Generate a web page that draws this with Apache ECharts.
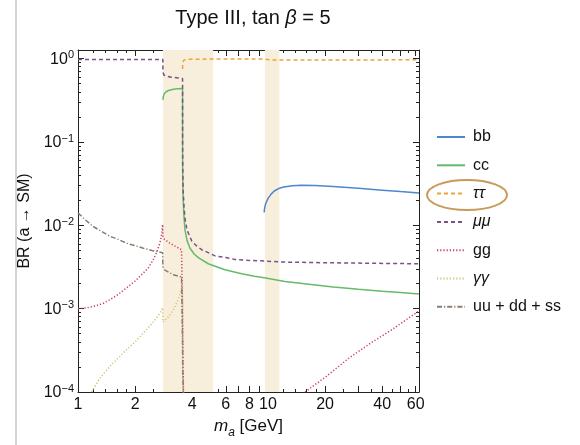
<!DOCTYPE html>
<html><head><meta charset="utf-8">
<script src="https://cdn.jsdelivr.net/npm/echarts@6/dist/echarts.min.js"></script>
<style>html,body{margin:0;padding:0;background:#fff}#c{width:580px;height:445px}</style>
</head><body><div id="c"></div>
<script>
// ---- data (m_a in GeV, branching ratios) ----
const bbX = [9.56, 9.6, 9.7, 9.83, 10.04, 10.4, 10.8, 11.4, 12.1, 13.5, 15, 17.7, 22, 30, 40, 50, 62.5];
const bbY = [0.0143, 0.0158, 0.0176, 0.0192, 0.0212, 0.0237, 0.0258, 0.0276, 0.0288, 0.0298, 0.0302, 0.0301, 0.0292, 0.0278, 0.0264, 0.0254, 0.0245];

const ccX = [2.8, 2.81, 2.84, 2.9, 3.0, 3.18, 3.35, 3.554, 3.5545, 3.556, 3.56, 3.58, 3.62, 3.66, 3.75, 3.89, 4.1, 4.3, 4.85, 5.94, 7.28, 8.5, 9.56, 9.7, 12.3, 16, 22.1, 30, 40, 50, 62.5];
const ccY = [0.32, 0.345, 0.375, 0.398, 0.415, 0.43, 0.435, 0.437, 0.15, 0.065, 0.038, 0.02, 0.0122, 0.0088, 0.0066, 0.0053, 0.0045, 0.0041, 0.00346, 0.00293, 0.00262, 0.00245, 0.00235, 0.00228, 0.00212, 0.00198, 0.00182, 0.00171, 0.00162, 0.00156, 0.0015];

const tauX = [3.555, 3.556, 3.56, 3.58, 3.62, 3.7, 3.85, 4.2, 5, 7, 9.56, 9.7, 10.5, 12, 15, 20, 30, 45, 62.5];
const tauY = [0.75, 0.84, 0.9, 0.945, 0.965, 0.975, 0.982, 0.986, 0.988, 0.99, 0.99, 0.975, 0.965, 0.962, 0.962, 0.963, 0.965, 0.967, 0.968];

const muX = [1, 2.799, 2.8, 2.83, 2.9, 3.1, 3.3, 3.554, 3.5545, 3.556, 3.56, 3.58, 3.62, 3.66, 3.75, 3.97, 4.2, 4.48, 4.85, 5.26, 6, 6.7, 7.8, 8.89, 9.56, 9.7, 12.3, 20, 30, 45, 62.5];
const muY = [0.98, 0.98, 0.7, 0.64, 0.615, 0.6, 0.59, 0.578, 0.2, 0.085, 0.05, 0.026, 0.016, 0.012, 0.0088, 0.0065, 0.0057, 0.0051, 0.0047, 0.0043, 0.0041, 0.0039, 0.0038, 0.00376, 0.00372, 0.00366, 0.00362, 0.00356, 0.00352, 0.00348, 0.00346];

const ggLowX = [1, 1.1, 1.2, 1.35, 1.47, 1.6, 1.8, 2.0, 2.21, 2.35, 2.49, 2.6, 2.7, 2.75, 2.79, 2.8, 2.85, 3.05, 3.3, 3.51, 3.554, 3.556, 3.56, 3.58, 3.6, 3.62];
const ggLowY = [0.001, 0.00102, 0.00106, 0.00115, 0.00128, 0.00144, 0.00177, 0.00215, 0.00268, 0.0031, 0.00386, 0.0048, 0.00613, 0.0075, 0.0102, 0.0074, 0.0068, 0.0061, 0.0055, 0.0051, 0.005, 0.0008, 0.00045, 0.00016, 0.00009, 0.00006];
const ggHighX = [15.7, 20, 27, 35, 45, 55, 62.5];
const ggHighY = [0.0001, 0.00015, 0.00026, 0.00039, 0.00056, 0.00077, 0.00094];

const aaX = [1.18, 1.3, 1.47, 1.6, 1.8, 2.0, 2.21, 2.4, 2.59, 2.7, 2.79, 2.8, 2.85, 3.0, 3.18, 3.35, 3.45, 3.51, 3.554, 3.556, 3.56, 3.58];
const aaY = [0.0001, 0.000145, 0.000202, 0.000245, 0.000321, 0.0004, 0.00051, 0.00063, 0.00077, 0.00089, 0.00102, 0.00069, 0.00072, 0.0008, 0.00097, 0.00125, 0.0015, 0.00177, 0.0019, 0.00028, 0.00017, 0.000087];

const qX = [1, 1.1, 1.2, 1.35, 1.47, 1.65, 1.8, 2.0, 2.21, 2.45, 2.64, 2.79, 2.8, 2.87, 3.18, 3.51, 3.554, 3.556, 3.56, 3.58, 3.62];
const qY = [0.0141, 0.0115, 0.0097, 0.0083, 0.0074, 0.0067, 0.0061, 0.0057, 0.0053, 0.005, 0.0048, 0.0047, 0.0032, 0.0029, 0.00255, 0.0024, 0.0024, 0.00035, 0.00021, 0.00011, 0.00007];

const bandRanges = [[2.8, 5.15], [9.65, 11.5]];

const xLabelValues = [1, 2, 4, 6, 8, 10, 20, 40, 60];
const xMajorTicks = [1, 2, 3, 4, 5, 6, 7, 8, 9, 10, 20, 30, 40, 50, 60];
const xMinorTicks = [1.2, 1.4, 1.6, 1.8, 2.5, 3.5, 4.5, 5.5, 12, 14, 16, 18, 25, 35, 45, 55];
const yLabelValues = [1e-4, 1e-3, 1e-2, 1e-1, 1];
const yMinorTicks = [];
[1e-4, 1e-3, 1e-2, 1e-1].forEach(d => { for (let k = 2; k <= 9; k++) yMinorTicks.push(+(k * d).toPrecision(3)); });

const legendNames = ['bb', 'cc', 'ττ', 'μμ', 'gg', 'γγ', 'uu + dd + ss'];

// ---- chart ----
const FONT = '"Liberation Sans", Arial, sans-serif';
const AX = '#222';
const zip = (xs, ys) => xs.map((x, i) => [x, ys[i]]);
const XMIN = 1, XMAX = 62.5, YMIN = 1e-4, YMAX = 1.27;

const chart = echarts.init(document.getElementById('c'), null, {renderer: 'canvas'});

function xAxisDef(pos, ticks, len, labels, line, extra) {
  return Object.assign({
    type: 'log', logBase: 10, min: XMIN, max: XMAX, position: pos, gridIndex: 0,
    axisLine: {show: line, onZero: false, lineStyle: {color: AX, width: 1}},
    axisTick: {show: true, inside: true, length: len, customValues: ticks, lineStyle: {color: AX, width: 1}},
    axisLabel: labels ? {show: true, customValues: xLabelValues, fontFamily: FONT, fontSize: 16, color: '#111', margin: 5,
      formatter: v => String(Math.round(v))} : {show: false},
    splitLine: {show: false}, minorTick: {show: false}, minorSplitLine: {show: false}
  }, extra || {});
}
function yAxisDef(pos, ticks, len, labels, line, extra) {
  return Object.assign({
    type: 'log', logBase: 10, min: YMIN, max: YMAX, position: pos, gridIndex: 0,
    axisLine: {show: line, onZero: false, lineStyle: {color: AX, width: 1}},
    axisTick: {show: true, inside: true, length: len, customValues: ticks, lineStyle: {color: AX, width: 1}},
    axisLabel: labels ? {show: true, customValues: yLabelValues, margin: 4,
      formatter: v => { const e = Math.round(Math.log10(v)); return '{b|10}{s|' + (e < 0 ? '−' + (-e) : String(e)) + '}'; },
      rich: {
        b: {fontFamily: FONT, fontSize: 16, color: '#111', lineHeight: 18, verticalAlign: 'bottom'},
        s: {fontFamily: FONT, fontSize: 11, color: '#111', lineHeight: 18, verticalAlign: 'top', padding: [0, 0, 7, 0]}
      }} : {show: false},
    splitLine: {show: false}, minorTick: {show: false}, minorSplitLine: {show: false}
  }, extra || {});
}

function lineSeries(name, data, color, type, extra) {
  return Object.assign({
    name: name, type: 'line', data: data, xAxisIndex: 0, yAxisIndex: 0,
    symbol: 'none', showSymbol: false, smooth: false, clip: true, animation: false,
    lineStyle: {color: color, width: 1.5, type: type}, itemStyle: {color: color}, z: 3
  }, extra || {});
}

const dashed = [4, 3], dotted = [1.2, 2], dashDot = [5, 2, 1.2, 2];

const option = {
  animation: false,
  backgroundColor: '#fff',
  title: {
    text: '{n|Type III, tan }{i|β}{n| = 5}', left: 248, top: 3, textAlign: 'center',
    textStyle: {fontWeight: 'normal', rich: {
      n: {fontFamily: FONT, fontSize: 20, color: '#111', fontWeight: 'normal'},
      i: {fontFamily: FONT, fontSize: 20, color: '#111', fontStyle: 'italic', fontWeight: 'normal'}
    }}
  },
  grid: {left: 78, right: 161, top: 50, bottom: 53, show: false, containLabel: false, outerBoundsMode: 'none'},
  legend: {
    data: legendNames, orient: 'vertical', left: 436, top: 129, padding: 0,
    itemWidth: 28, itemHeight: 14, itemGap: 12.3,
    itemStyle: {opacity: 0},
    formatter: n => (n === 'ττ' || n === 'μμ' || n === 'γγ') ? '{i|' + n + '}' : '{n|' + n + '}',
    textStyle: {fontFamily: FONT, fontSize: 16, color: '#111', padding: [0, 0, 0, 3], rich: {
      n: {fontFamily: FONT, fontSize: 16, color: '#111', lineHeight: 14},
      i: {fontFamily: FONT, fontSize: 16, color: '#111', fontStyle: 'italic', lineHeight: 14}
    }},
    selectedMode: false
  },
  xAxis: [
    xAxisDef('bottom', xMajorTicks, 6, true, true, {
      name: '{i|m}{s|a} [GeV]', nameLocation: 'middle', nameGap: 19,
      nameTextStyle: {rich: {
        i: {fontFamily: FONT, fontSize: 17, color: '#111', fontStyle: 'italic'},
        s: {fontFamily: FONT, fontSize: 12, color: '#111', fontStyle: 'italic', verticalAlign: 'bottom', padding: [0, 0, -4, 0]}
      }, fontFamily: FONT, fontSize: 17, color: '#111'}
    }),
    xAxisDef('bottom', xMinorTicks, 3, false, false),
    xAxisDef('top', xMajorTicks, 6, false, true),
    xAxisDef('top', xMinorTicks, 3, false, false)
  ],
  yAxis: [
    yAxisDef('left', yLabelValues, 6, true, true, {
      name: 'BR (a → SM)', nameLocation: 'middle', nameGap: 41, nameRotate: 90,
      nameTextStyle: {fontFamily: FONT, fontSize: 16, color: '#111'}
    }),
    yAxisDef('left', yMinorTicks, 3, false, false),
    yAxisDef('right', yLabelValues, 6, false, true),
    yAxisDef('right', yMinorTicks, 3, false, false)
  ],
  series: [
    lineSeries('bb', zip(bbX, bbY), '#4f86d0', 'solid', {
      markArea: {silent: true, z: 1, itemStyle: {color: '#f7efdc'},
        data: bandRanges.map(r => [{xAxis: r[0]}, {xAxis: r[1]}])}
    }),
    lineSeries('cc', zip(ccX, ccY), '#66bb6a', 'solid'),
    lineSeries('ττ', zip(tauX, tauY), '#eea33a', dashed),
    lineSeries('μμ', zip(muX, muY), '#7b4f8a', dashed),
    lineSeries('gg', zip(ggLowX, ggLowY), '#cc3b5a', dotted),
    lineSeries('gg', zip(ggHighX, ggHighY), '#cc3b5a', dotted),
    lineSeries('γγ', zip(aaX, aaY), '#cfc37a', dotted),
    lineSeries('uu + dd + ss', zip(qX, qY), '#8a7d72', dashDot)
  ],
  graphic: [
    {type: 'line', shape: {x1: 16, y1: 0, x2: 16, y2: 445}, style: {stroke: '#d4d4d4', lineWidth: 2}, silent: true},
    {type: 'ellipse', shape: {cx: 467, cy: 195, rx: 40, ry: 15}, style: {fill: 'none', stroke: '#c99a5b', lineWidth: 2}, silent: true, z: 10}
  ]
};
chart.setOption(option);
</script>
</body></html>
